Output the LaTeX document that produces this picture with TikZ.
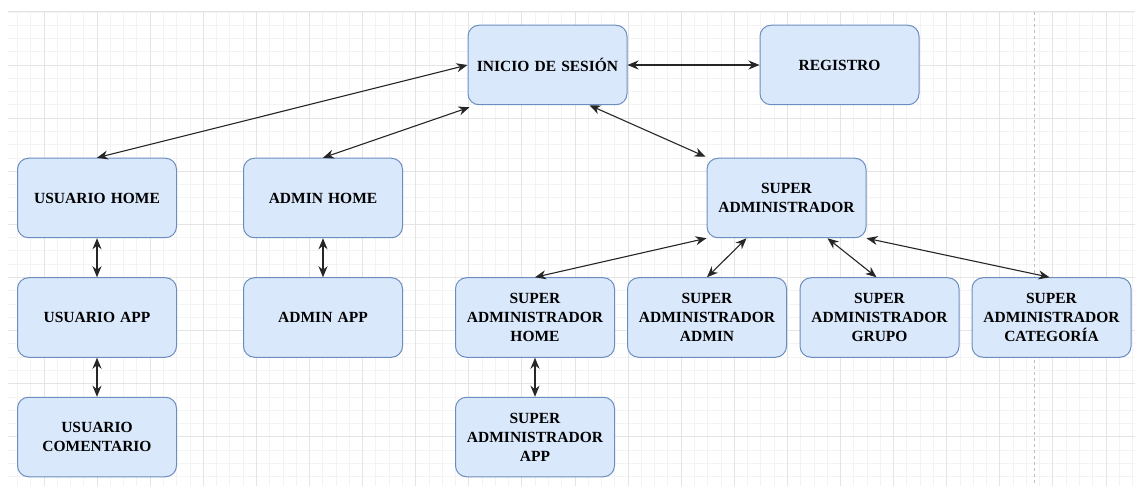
\documentclass[tikz,border=0pt]{standalone}
\usepackage{fontspec}
\setmainfont{Liberation Serif}
\usetikzlibrary{arrows.meta,calc}

\definecolor{boxfill}{HTML}{DAE8FC}
\definecolor{boxline}{HTML}{6C8EBF}
\definecolor{gridminor}{HTML}{F3F3F3}
\definecolor{gridmajor}{HTML}{E4E4E4}
\definecolor{pageline}{HTML}{BDBDBD}

\tikzset{
  screen/.style={draw=boxline, fill=boxfill, line width=1pt, rounded corners=11pt,
    minimum width=159pt, minimum height=79.5pt, inner sep=0pt,
    text width=152pt, align=center,
    font=\bfseries\fontsize{15.5}{19}\selectfont},
  tip/.tip={Stealth[length=11pt,width=9pt,inset=3.5pt]},
  link/.style={line width=1.1pt, black!85, tip-tip},
  minorline/.style={draw=gridminor, line width=0.9pt},
  majorline/.style={draw=gridmajor, line width=1pt},
}

\begin{document}
\begin{tikzpicture}[x=1pt,y=-1pt]
\useasboundingbox (0,0) rectangle (1135,486);
\fill[white] (0,0) rectangle (1135,486);

% background grid
\begin{scope}
  \clip (8,12) rectangle (1135,486);
  \foreach \k in {-3,...,83} {
    \pgfmathsetmacro\gx{44+13.275*\k}
    \draw[minorline] (\gx,0) -- (\gx,490);
  }
  \foreach \k in {0,...,37} {
    \pgfmathsetmacro\gy{12+13.275*\k}
    \draw[minorline] (0,\gy) -- (1140,\gy);
  }
  \foreach \k in {-1,...,21} {
    \pgfmathsetmacro\gx{44+53.1*\k}
    \draw[majorline] (\gx,0) -- (\gx,490);
  }
  \foreach \k in {0,...,9} {
    \pgfmathsetmacro\gy{12+53.1*\k}
    \draw[majorline] (0,\gy) -- (1140,\gy);
  }
\end{scope}

% page break
\draw[pageline, line width=0.9pt, dash pattern=on 3pt off 3pt] (1034,12) -- (1034,486);

% screens
\node[screen] (ini) at (547.5,65) {INICIO DE SESIÓN};
\node[screen] (reg) at (839.5,65) {REGISTRO};
\node[screen] (uh)  at (97,198)   {USUARIO HOME};
\node[screen] (ah)  at (323,198)  {ADMIN HOME};
\node[screen] (sa)  at (786.5,198) {SUPER\\ADMINISTRADOR};
\node[screen] (ua)  at (97,317.5) {USUARIO APP};
\node[screen] (aa)  at (323,317.5) {ADMIN APP};
\node[screen] (sah) at (535,317.5) {SUPER\\ADMINISTRADOR\\HOME};
\node[screen] (saa) at (707,317.5) {SUPER\\ADMINISTRADOR\\ADMIN};
\node[screen] (sag) at (879.5,317.5) {SUPER\\ADMINISTRADOR\\GRUPO};
\node[screen] (sac) at (1051.5,317.5) {SUPER\\ADMINISTRADOR\\CATEGORÍA};
\node[screen] (uc)  at (97,437) {USUARIO\\COMENTARIO};
\node[screen] (sap) at (535,437) {SUPER\\ADMINISTRADOR\\APP};

% navigation links
\draw[link] (ini.west) -- (uh.north);
\draw[link] ($(ini.south west)+(2,2)$) -- (ah.north);
\draw[link] ($(ini.south)+(42,0)$) -- ($(sa.north west)+(-1,-1)$);
\draw[link] (ini.east) -- (reg.west);
\draw[link] (uh.south) -- (ua.north);
\draw[link] (ua.south) -- (uc.north);
\draw[link] (ah.south) -- (aa.north);
\draw[link] (sa.south west) -- (sah.north);
\draw[link] ($(sa.south)+(-40,0)$) -- (saa.north);
\draw[link] ($(sa.south)+(41,0)$) -- ($(sag.north)+(-3,0)$);
\draw[link] (sa.south east) -- ($(sac.north)+(-2,0)$);
\draw[link] (sah.south) -- (sap.north);
\end{tikzpicture}
\end{document}
